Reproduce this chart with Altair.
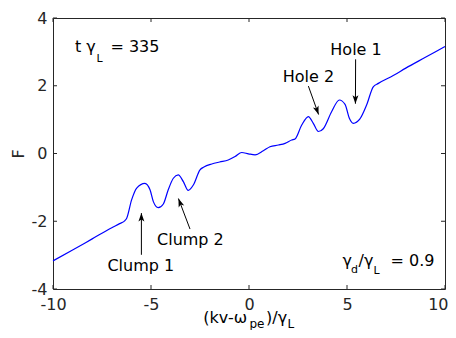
import math
import altair as alt
import pandas as pd

# ---- data ----
x_vals = [-10, -9, -8, -7, -6.6, -6.33, -6.24, -5.99, -5.73, -5.31, -5.05, -4.88, -4.63, -4.37,
          -4.12, -3.86, -3.61, -3.35, -3.10, -2.84, -2.50, -2.30, -1.90, -1.50, -1.06, -0.71,
          -0.37, -0.03, 0.31, 0.73, 1.07, 1.50, 1.84, 2.18, 2.35, 2.69, 3.03, 3.28,
          3.54, 3.79, 4.22, 4.61, 4.90, 5.12, 5.32, 5.66, 6.00, 6.34, 6.60, 7.36, 8, 9, 10]
f_vals = [-3.17, -2.85, -2.52, -2.19, -2.07, -1.98, -1.91, -1.37, -1.02, -0.88, -1.07, -1.42,
          -1.60, -1.49, -1.07, -0.73, -0.63, -0.83, -1.09, -0.93, -0.48, -0.40, -0.31, -0.25,
          -0.19, -0.09, 0.03, -0.01, -0.04, 0.08, 0.20, 0.25, 0.30, 0.40, 0.43, 0.84, 1.09,
          0.89, 0.65, 0.73, 1.24, 1.58, 1.45, 1.04, 0.89, 1.02, 1.43, 1.97, 2.07, 2.30, 2.52,
          2.84, 3.16]

x_ticks = [-10, -5, 0, 5, 10]
y_ticks = [-4, -2, 0, 2, 4]

# annotation labels (data coordinates)
lab_text = ["Hole 1", "Hole 2", "Clump 1", "Clump 2"]
lab_x = [5.46, 3.03, -5.52, -2.99]
lab_y = [2.90, 2.12, -3.47, -2.70]

# arrows: tail -> tip (data coordinates)
arr_x0 = [5.44, 3.03, -5.49, -3.01]
arr_y0 = [2.78, 1.99, -2.99, -2.23]
arr_x1 = [5.43, 3.55, -5.49, -3.60]
arr_y1 = [1.47, 1.15, -1.76, -1.33]

# text pieces with subscripts: text, x, y, fontsize, align
piece_text = ["t \u03b3", "L", "= 335",
              "\u03b3", "d", "/\u03b3", "L", "= 0.9",
              "(kv-\u03c9", "pe", ")/\u03b3", "L"]
piece_x = [-8.88, -7.78, -7.07,
           4.77, 5.20, 5.59, 6.35, 9.46,
           -2.33, 0.02, 0.87, 1.96]
piece_y = [2.99, 2.71, 2.99,
           -3.31, -3.53, -3.31, -3.56, -3.31,
           -5.00, -5.14, -5.00, -5.14]
piece_size = [16, 11, 16,
              16, 11, 16, 11, 16,
              16, 12, 16, 12]
piece_align = ["left", "left", "left",
               "left", "left", "left", "left", "right",
               "left", "left", "left", "left"]

W, H = 392, 271
XD, YD = [-10, 10], [-4, 4]
FONT = "DejaVu Sans"
AX = "#262626"

xs = alt.Scale(domain=XD, nice=False, zero=False)
ys = alt.Scale(domain=YD, nice=False, zero=False)

curve = pd.DataFrame({"x": x_vals, "F": f_vals})

line = alt.Chart(curve).mark_line(color="#0000ff", strokeWidth=1.2, interpolate="monotone").encode(
    x=alt.X("x:Q", scale=xs, axis=alt.Axis(
        values=x_ticks, title=None, labelExpr="datum.value + ''", labelPadding=7,
        labelAlign={"condition": {"test": "datum.value == 10", "value": "right"}, "value": "center"},
        labelOffset={"condition": {"test": "datum.value == 10", "value": 3}, "value": 0})),
    y=alt.Y("F:Q", scale=ys, axis=alt.Axis(values=y_ticks, title="F", labelExpr="datum.value + ''",
                                           labelPadding=6, titleAngle=270, titleX=-35, titleY=H / 2,
                                           titleAlign="center", titleBaseline="middle")),
)

# inward ticks
xt = pd.DataFrame({"t": x_ticks})
yt = pd.DataFrame({"t": y_ticks})
tick_style = dict(color=AX, strokeWidth=1)
t_bottom = alt.Chart(xt).mark_rule(**tick_style).encode(x=alt.X("t:Q", scale=xs), y=alt.value(H), y2=alt.value(H - 4))
t_top = alt.Chart(xt).mark_rule(**tick_style).encode(x=alt.X("t:Q", scale=xs), y=alt.value(0), y2=alt.value(4))
t_left = alt.Chart(yt).mark_rule(**tick_style).encode(y=alt.Y("t:Q", scale=ys), x=alt.value(0), x2=alt.value(4))
t_right = alt.Chart(yt).mark_rule(**tick_style).encode(y=alt.Y("t:Q", scale=ys), x=alt.value(W), x2=alt.value(W - 4))

# arrows
px_x = W / (XD[1] - XD[0])
px_y = H / (YD[1] - YD[0])
angles = []
for a, b, c, d in zip(arr_x0, arr_y0, arr_x1, arr_y1):
    dx = (c - a) * px_x
    dy = -(d - b) * px_y
    angles.append(math.degrees(math.atan2(dx, -dy)) % 360)
arr = pd.DataFrame({"x0": arr_x0, "y0": arr_y0, "x1": arr_x1, "y1": arr_y1, "ang": angles})

shafts = alt.Chart(arr).mark_rule(color="#000000", strokeWidth=1).encode(
    x=alt.X("x0:Q", scale=xs), y=alt.Y("y0:Q", scale=ys), x2="x1:Q", y2="y1:Q")
heads = alt.Chart(arr).mark_point(shape="M0,0 L0.7,2 L0,1.5 L-0.7,2 Z", filled=True, opacity=1,
                                  color="#000000", size=72, strokeWidth=0).encode(
    x=alt.X("x1:Q", scale=xs), y=alt.Y("y1:Q", scale=ys), angle=alt.Angle("ang:Q", scale=None))

labels = pd.DataFrame({"text": lab_text, "x": lab_x, "y": lab_y})
lab_layer = alt.Chart(labels).mark_text(font=FONT, fontSize=16, align="center", baseline="alphabetic",
                                        color="#000000").encode(
    x=alt.X("x:Q", scale=xs), y=alt.Y("y:Q", scale=ys), text="text:N")

pieces = pd.DataFrame({"text": piece_text, "x": piece_x, "y": piece_y, "size": piece_size,
                       "align": piece_align})
piece_layers = []
for al in ["left", "right"]:
    piece_layers.append(
        alt.Chart(pieces[pieces["align"] == al]).mark_text(font=FONT, align=al, baseline="alphabetic",
                                                           color="#000000").encode(
            x=alt.X("x:Q", scale=xs), y=alt.Y("y:Q", scale=ys), text="text:N",
            size=alt.Size("size:Q", scale=None))
    )

chart = alt.layer(line, t_bottom, t_top, t_left, t_right, shafts, heads, lab_layer, *piece_layers).properties(
    width=W, height=H,
    autosize=alt.AutoSizeParams(type="none"),
    padding={"left": 45, "top": 10, "right": 3, "bottom": 41},
    background="white",
).configure_view(stroke=AX, strokeWidth=1).configure_axis(
    labelFont=FONT, labelFontSize=16, labelColor=AX, tickSize=0, domain=False, grid=False,
    titleFont=FONT, titleFontSize=16, titleFontWeight="normal", titleColor=AX,
)

chart.save("out.html", embed_options={"renderer": "svg", "actions": False})
